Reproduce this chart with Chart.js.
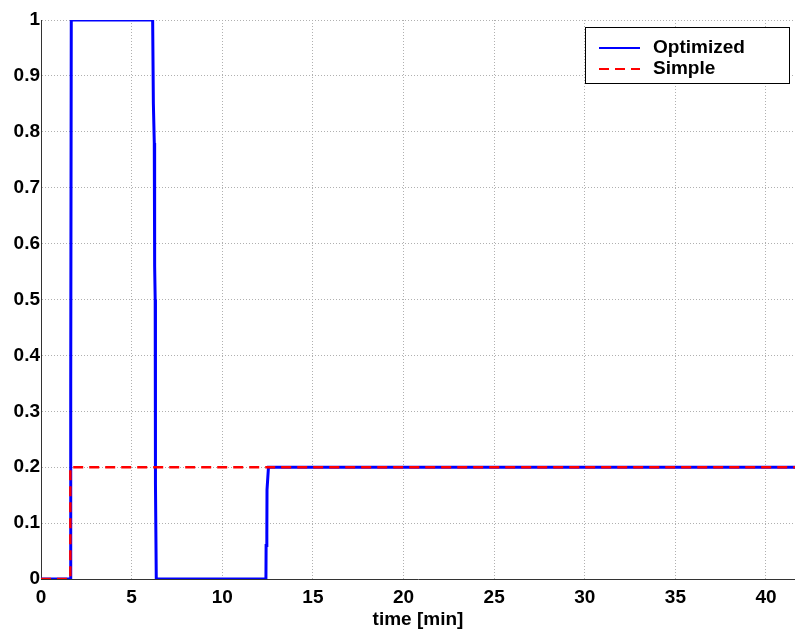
<!DOCTYPE html>
<html>
<head>
<meta charset="utf-8">
<script src="https://cdn.jsdelivr.net/npm/chart.js@4.4.0/dist/chart.umd.min.js"></script>
<style>
  html, body { margin: 0; padding: 0; background: #fff; }
  #wrap { width: 795px; height: 631px; }
</style>
</head>
<body>
<div id="wrap"><canvas id="grafico"></canvas></div>
<script>
// dados (tempo em minutos)
const optimizedTime = [0, 1.62, 1.64, 1.67, 6.16, 6.2, 6.25, 6.27, 6.3, 6.3, 6.33, 6.36, 12.41, 12.42, 12.46, 12.47, 12.55, 41.6];
const optimizedValue = [0, 0, 0.35, 1, 1, 0.85, 0.78, 0.56, 0.5, 0.2, 0.17, 0, 0, 0.06, 0.08, 0.16, 0.2, 0.2];
const simpleTime = [0, 1.62, 1.62, 41.6];
const simpleValue = [0, 0, 0.2, 0.2];
const xTicks = [0, 5, 10, 15, 20, 25, 30, 35, 40];
const yTicks = [0, 0.1, 0.2, 0.3, 0.4, 0.5, 0.6, 0.7, 0.8, 0.9, 1];

const toPoints = (xs, ys) => xs.map((x, i) => ({ x: x, y: ys[i] }));
const fonte = { family: '"Liberation Sans", Arial, sans-serif', size: 19, weight: 'bold' };

// legenda com caixa, no canto superior direito (estilo MATLAB)
const legendaCaixa = {
    id: 'legendaCaixa',
    afterDraw(chart) {
        const ctx = chart.ctx;
        const x0 = 585, y0 = 27, w = 204, h = 56;
        ctx.save();
        ctx.fillStyle = '#fff';
        ctx.fillRect(x0, y0, w, h);
        ctx.strokeStyle = '#000';
        ctx.lineWidth = 1;
        ctx.strokeRect(x0 + 0.5, y0 + 0.5, w, h);
        ctx.font = 'bold 19px "Liberation Sans", Arial, sans-serif';
        ctx.textBaseline = 'middle';
        chart.data.datasets.forEach((ds, i) => {
            const yy = y0 + 21 + i * 21;
            ctx.strokeStyle = ds.borderColor;
            ctx.lineWidth = 2;
            ctx.setLineDash(ds.borderDash || []);
            ctx.beginPath();
            ctx.moveTo(599, yy);
            ctx.lineTo(640, yy);
            ctx.stroke();
            ctx.setLineDash([]);
            ctx.fillStyle = '#000';
            ctx.fillText(ds.label, 653, yy);
        });
        ctx.restore();
    }
};

new Chart(document.getElementById('grafico'), {
    type: 'line',
    data: {
        datasets: [
            {
                label: 'Optimized',
                data: toPoints(optimizedTime, optimizedValue),
                borderColor: '#0000ff',
                borderWidth: 3,
                pointRadius: 0,
                tension: 0,
                order: 1
            },
            {
                label: 'Simple',
                data: toPoints(simpleTime, simpleValue),
                borderColor: '#ff0000',
                borderWidth: 2.5,
                borderDash: [10, 6],
                pointRadius: 0,
                tension: 0,
                order: 0
            }
        ]
    },
    options: {
        responsive: true,
        maintainAspectRatio: false,
        animation: false,
        layout: { padding: { top: 20, right: 0, left: 0, bottom: 0 } },
        plugins: {
            legend: { display: false },
            tooltip: { enabled: false }
        },
        scales: {
            x: {
                type: 'linear',
                min: 0,
                max: 41.6,
                afterFit: (s) => { s.height = 52; },
                afterBuildTicks: (s) => { s.ticks = xTicks.map(v => ({ value: v })); },
                ticks: { color: '#000', font: fonte, padding: 7, maxRotation: 0 },
                grid: { color: '#b0b0b0', tickLength: 0 },
                border: { color: '#333', width: 1, dash: [1, 2] },
                title: { display: true, text: 'time [min]', color: '#000', font: fonte, padding: { top: 0, bottom: 0 } }
            },
            y: {
                min: 0,
                max: 1,
                afterFit: (s) => { s.width = 41; },
                afterBuildTicks: (s) => { s.ticks = yTicks.map(v => ({ value: v })); },
                ticks: { color: '#000', font: fonte, padding: 1, callback: (v) => String(v) },
                grid: { color: '#b0b0b0', tickLength: 0 },
                border: { color: '#333', width: 1, dash: [1, 2] }
            }
        }
    },
    plugins: [legendaCaixa]
});
</script>
</body>
</html>
